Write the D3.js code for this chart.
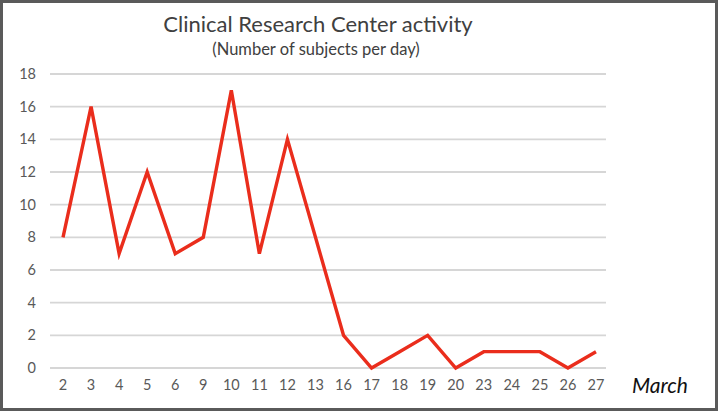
<!DOCTYPE html>
<html>
<head>
<meta charset="utf-8">
<script src="https://cdn.jsdelivr.net/npm/d3@7"></script>
<style>
  body { margin: 0; background: #fff; }
  svg { display: block; }
</style>
</head>
<body>
<svg id="chart" width="718" height="411"></svg>
<script>
var days = ["2", "3", "4", "5", "6", "9", "10", "11", "12", "13", "16", "17", "18", "19", "20", "23", "24", "25", "26", "27"];
var subjects = [8, 16, 7, 12, 7, 8, 17, 7, 14, 8, 2, 0, 1, 2, 0, 1, 1, 1, 0, 1];
var yTicks = [0, 2, 4, 6, 8, 10, 12, 14, 16, 18];

var font = "Lato, 'Open Sans', sans-serif";
var svg = d3.select("#chart");

svg.append("rect")
  .attr("x", 1.5).attr("y", 1.5)
  .attr("width", 715).attr("height", 408)
  .attr("fill", "#fff")
  .attr("stroke", "#5a5a5a")
  .attr("stroke-width", 3);

var x = d3.scaleBand()
  .domain(days)
  .range([49, 610]);

var y = d3.scaleLinear()
  .domain([0, 18])
  .range([368, 74]);

// gridlines
svg.append("g")
  .selectAll("line")
  .data(yTicks)
  .enter()
  .append("line")
    .attr("x1", 50).attr("x2", 606)
    .attr("y1", function(d) { return y(d); })
    .attr("y2", function(d) { return y(d); })
    .attr("stroke", "#d6d6d6")
    .attr("stroke-width", 1.8);

// y axis labels
var yAxis = svg.append("g")
  .attr("transform", "translate(36,0)")
  .call(d3.axisLeft(y).tickValues(yTicks).tickSize(0).tickPadding(0));
yAxis.select(".domain").remove();
yAxis.selectAll("text")
  .attr("font-family", font)
  .attr("font-size", 14.5)
  .attr("fill", "#595959");

// x axis labels
var xAxis = svg.append("g")
  .attr("transform", "translate(0,380)")
  .call(d3.axisBottom(x).tickSize(0).tickPadding(0));
xAxis.select(".domain").remove();
xAxis.selectAll("text")
  .attr("font-family", font)
  .attr("font-size", 14.5)
  .attr("fill", "#595959");

svg.append("text")
  .attr("x", 660).attr("y", 393)
  .attr("text-anchor", "middle")
  .attr("font-family", font)
  .attr("font-style", "italic")
  .attr("font-size", 21)
  .attr("fill", "#111")
  .text("March");

// line
var line = d3.line()
  .x(function(d, i) { return x(days[i]) + x.bandwidth() / 2; })
  .y(function(d) { return y(d); });

svg.append("path")
  .datum(subjects)
  .attr("d", line)
  .attr("fill", "none")
  .attr("stroke", "#ea2d1c")
  .attr("stroke-width", 3.4)
  .attr("stroke-linejoin", "miter");

// titles
svg.append("text")
  .attr("x", 318).attr("y", 32)
  .attr("text-anchor", "middle")
  .attr("font-family", font)
  .attr("font-size", 22)
  .attr("fill", "#404040")
  .text("Clinical Research Center activity");

svg.append("text")
  .attr("x", 316).attr("y", 55)
  .attr("text-anchor", "middle")
  .attr("font-family", font)
  .attr("font-size", 16.5)
  .attr("fill", "#404040")
  .text("(Number of subjects per day)");
</script>
</body>
</html>
